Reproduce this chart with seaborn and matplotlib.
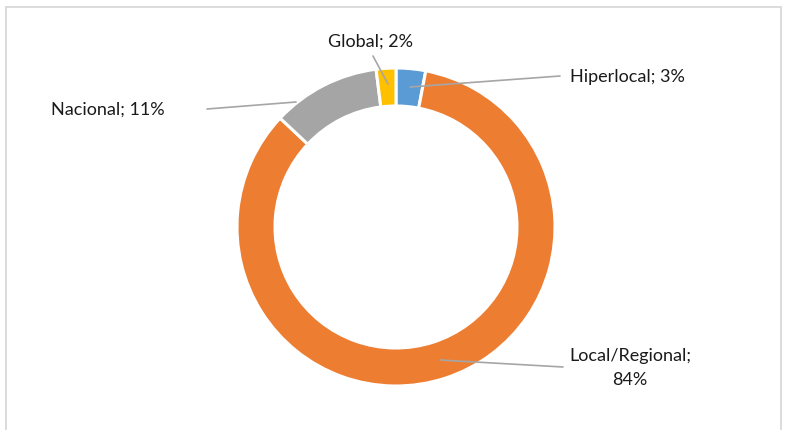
import matplotlib
matplotlib.use("Agg")
import matplotlib.pyplot as plt
import seaborn as sns

# Share of outlets by geographic scope
categories = ["Hiperlocal", "Local/Regional", "Nacional", "Global"]
shares = [3, 84, 11, 2]
colors = ["#5B9BD5", "#ED7D31", "#A5A5A5", "#FFC000"]

sns.set_theme(style="white")
plt.rcParams["font.family"] = ["Lato", "DejaVu Sans"]

W, H = 787, 431
fig = plt.figure(figsize=(W / 100, H / 100), dpi=100)
ax = fig.add_axes([0, 0, 1, 1])

cx, cy, r = 396, H - 228, 159
ax.pie(shares, colors=colors, startangle=90, counterclock=False,
       center=(cx, cy), radius=r,
       wedgeprops=dict(width=38, edgecolor="white", linewidth=2.2))
ax.set_xlim(0, W)
ax.set_ylim(0, H)
ax.set_aspect("equal")
ax.axis("off")

# label text positions (pixels from top-left) and leader lines
labels = [f"{c}; {s}%" for c, s in zip(categories, shares)]
labels[1] = f"{categories[1]};\n{shares[1]}%"
leaders = [
    ((410, 88), (560, 77), (570, 77), "left"),
    ((440, 361), (563, 368), (630, 368), "center"),
    ((296, 103), (207, 110), (165, 110), "right"),
    ((388, 85), (373, 57), (370, 42), "center"),
]
for text, (p0, p1, pt, ha) in zip(labels, leaders):
    ax.plot([p0[0], p1[0]], [H - p0[1], H - p1[1]], color="#A6A6A6", lw=1.2)
    ax.text(pt[0], H - pt[1], text, ha=ha, va="center", fontsize=13,
            color="#1A1A1A", linespacing=1.55)

# chart area frame
fc = "#D9D9D9"
ax.plot([6, 6], [0, H - 8], color=fc, lw=1.3)
ax.plot([6, 781], [H - 8, H - 8], color=fc, lw=1.3)
ax.plot([781, 781], [0, H - 8], color=fc, lw=1.3)

fig.savefig("out.png", dpi=100)
